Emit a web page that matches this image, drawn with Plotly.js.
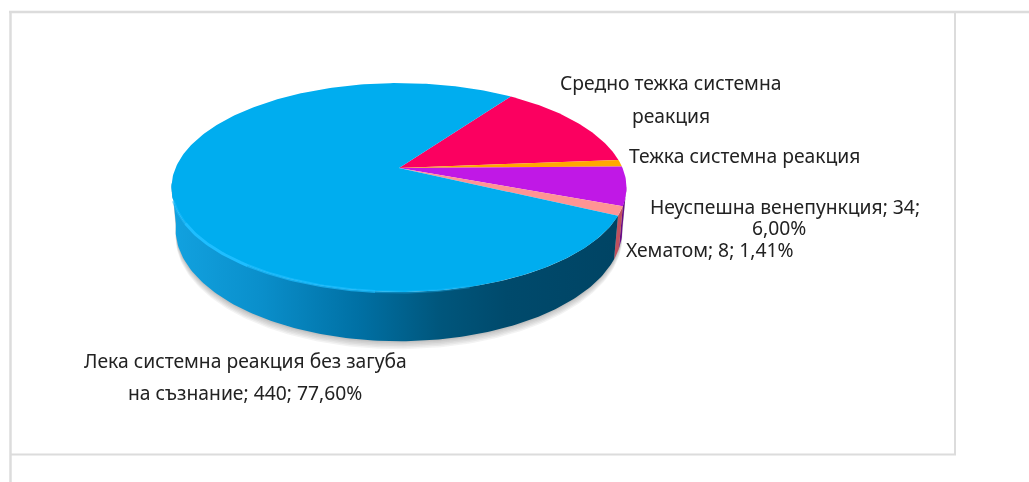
<!DOCTYPE html>
<html><head><meta charset="utf-8">
<script src="https://cdn.plot.ly/plotly-3.0.1.min.js"></script>
<style>html,body{margin:0;padding:0;background:#fff;overflow:hidden}#c{width:1029px;height:482px;filter:blur(0.4px)}</style>
</head><body><div id="c"></div>
<script>
// Data, clockwise from the first slice's start
const categories = ['Средно тежка системна реакция','Тежка системна реакция','Неуспешна венепункция','Хематом','Лека системна реакция без загуба на съзнание'];
const values = [79, 6, 34, 8, 440];
const topColors = ['#FB0060','#FFA800','#C018E6','#FF9494','#00ADEF'];
const wallColors = ['#8A0036','#8A5A00','#6A0A86','#C0505E','#005E88'];
const labelLines = [
  ['Средно тежка системна', 670, 82.5],
  ['реакция', 670.5, 115.5],
  ['Тежка системна реакция', 744.5, 155.5],
  ['Неуспешна венепункция; 34;', 785, 206.5],
  ['6,00%', 779, 227],
  ['Хематом; 8; 1,41%', 710, 249.5],
  ['Лека системна реакция без загуба', 245, 360.5],
  ['на съзнание; 440; 77,60%', 245, 392.5]
];

// Projection of the tilted disc
const cx = 399, cy = 168, R = 223.5, A = 100.8, k = 0.187, depth = 40, startDeg = 35.2;
const rad = d => d * Math.PI / 180;
const scale = d => 1 / (1 + k * Math.cos(rad(d)));
const topPt = d => [cx + R * Math.sin(rad(d)) * scale(d), cy - A * Math.cos(rad(d)) * scale(d)];
const botPt = d => [cx + 0.982 * R * Math.sin(rad(d)) * scale(d), cy - A * Math.cos(rad(d)) * scale(d) + depth * scale(d)];
const arc = (fn, a, b) => { const n = Math.max(2, Math.ceil(Math.abs(b - a))), o = []; for (let i = 0; i <= n; i++) o.push(fn(a + (b - a) * i / n)); return o; };

const total = values.reduce((s, v) => s + v, 0);
let acc = startDeg;
const spans = values.map(v => { const a = acc; acc += v / total * 360; return [a, acc]; });

const traces = [];
const poly = (pts, extra) => traces.push(Object.assign({
  type: 'scatter', mode: 'lines', x: pts.map(p => p[0]), y: pts.map(p => p[1]),
  fill: 'toself', line: {width: 0}, hoverinfo: 'skip', showlegend: false
}, extra));

// Soft shadow below the wall
[8, 6.5, 5, 3.5, 2, 1].forEach(off => {
  const pts = arc(botPt, 100, 262).map(p => [p[0], p[1] + off]);
  poly(pts.concat(arc(topPt, 262, 100)), {fillcolor: 'rgba(90,90,90,0.07)'});
});

// Wall of each slice, front half only
const wallFrom = 100, wallTo = 262;
spans.forEach((s, i) => {
  const a = Math.max(s[0], wallFrom), b = Math.min(s[1], wallTo);
  if (b <= a) return;
  const pts = arc(topPt, a, b).concat(arc(botPt, b, a));
  const extra = {fillcolor: wallColors[i]};
  if (i === 4) {
    extra.fillgradient = {type: 'horizontal', colorscale: [
      [0, '#12A2E0'], [0.2, '#0A8FCB'], [0.42, '#0070A4'], [0.6, '#00567C'], [0.75, '#004A6C'], [1, '#004464']
    ]};
  }
  poly(pts, extra);
});

// Top face slices
spans.forEach((s, i) => {
  const pts = [[cx, cy]].concat(arc(topPt, s[0], s[1])).concat([[cx, cy]]);
  poly(pts, {fillcolor: topColors[i], name: categories[i]});
});

// Rim highlight fading to the right
[[252, 240, 0.5], [240, 215, 1], [215, 185, 0.7], [185, 165, 0.35]].forEach(r => {
  const pts = arc(topPt, r[0], r[1]);
  traces.push({type: 'scatter', mode: 'lines', x: pts.map(p => p[0]), y: pts.map(p => p[1]),
    line: {color: 'rgba(30,190,255,' + r[2] + ')', width: 3}, hoverinfo: 'skip', showlegend: false});
});

const frame = '#DCDCDC';
const seg = (x0, y0, x1, y1, w) => ({type: 'line', xref: 'x', yref: 'y', x0, y0, x1, y1, line: {color: frame, width: w}, layer: 'below'});

Plotly.newPlot('c', traces, {
  width: 1029, height: 482, margin: {l: 0, r: 0, t: 0, b: 0},
  paper_bgcolor: '#fff', plot_bgcolor: '#fff', showlegend: false, hovermode: false,
  xaxis: {range: [0, 1029], visible: false, fixedrange: true},
  yaxis: {range: [482, 0], visible: false, fixedrange: true},
  shapes: [seg(9, 12, 1029, 12, 2.5), seg(10.5, 12, 10.5, 482, 2.5), seg(955, 12, 955, 455, 2), seg(10, 454.5, 956, 454.5, 2)],
  annotations: labelLines.map(l => ({
    text: l[0], x: l[1], y: l[2], xref: 'x', yref: 'y', xanchor: 'center', yanchor: 'middle',
    showarrow: false, font: {family: 'Noto Sans, sans-serif', size: 19.3, color: '#222'}
  }))
}, {displayModeBar: false, staticPlot: true});
</script></body></html>
